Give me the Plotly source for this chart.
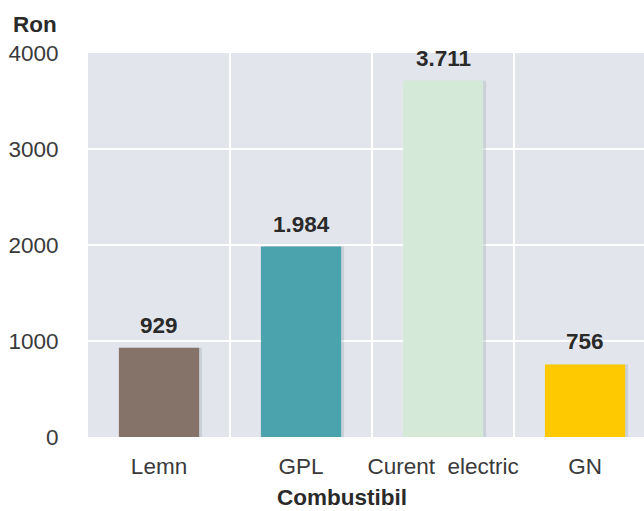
import plotly.graph_objects as go

categories = ["Lemn", "GPL", "Curent  electric", "GN"]
values = [929, 1984, 3711, 756]
bar_colors = ["#857269", "#4ba3ad", "#d5e9d9", "#fec900"]
y_ticks = [0, 1000, 2000, 3000, 4000]
y_label = "Ron"
x_label = "Combustibil"

FONT = "Liberation Sans, Arial, sans-serif"
idx = list(range(len(categories)))

def fmt(v):
    return f"{v:,}".replace(",", ".")

fig = go.Figure()
# soft shadow behind bars
fig.add_trace(go.Bar(
    x=idx, y=values, width=0.565, offset=-0.262,
    marker=dict(color="rgba(120,130,140,0.22)", line=dict(width=0)),
    hoverinfo="skip", showlegend=False,
))
fig.add_trace(go.Bar(
    x=idx, y=values, width=0.565, offset=-0.2825,
    marker=dict(color=bar_colors, line=dict(width=0)),
    showlegend=False,
))

for i, v in zip(idx, values):
    fig.add_annotation(
        x=i, y=v, text=f"<b>{fmt(v)}</b>", showarrow=False,
        yanchor="bottom", yshift=8,
        font=dict(family=FONT, size=22.5, color="#2a2a2a"),
    )

fig.add_annotation(
    xref="paper", yref="paper", x=-0.138, y=1.075, xanchor="left", yanchor="middle",
    text=f"<b>{y_label}</b>", showarrow=False,
    font=dict(family=FONT, size=22.5, color="#2a2a2a"),
)
fig.add_annotation(
    xref="paper", yref="paper", x=0.457, y=-0.157, xanchor="center", yanchor="middle",
    text=f"<b>{x_label}</b>", showarrow=False,
    font=dict(family=FONT, size=22.5, color="#2a2a2a"),
)

fig.update_layout(
    width=644, height=511,
    margin=dict(l=88, r=0, t=53, b=74),
    paper_bgcolor="white",
    plot_bgcolor="#e2e6ec",
    font=dict(family=FONT, size=23, color="#3a3a3a"),
    xaxis=dict(
        range=[-0.5, 3.415], tickmode="array", tickvals=idx, ticktext=categories,
        showgrid=False, zeroline=False, showline=False,
        ticks="outside", ticklen=9, tickcolor="rgba(0,0,0,0)",
        tickfont=dict(family=FONT, size=22.5, color="#3a3a3a"),
        minor=dict(tickmode="array", tickvals=[i + 0.5 for i in idx[:-1]],
                   showgrid=True, gridcolor="white", gridwidth=2, ticks=""),
        fixedrange=True,
    ),
    yaxis=dict(
        range=[0, 4000], tickmode="array", tickvals=y_ticks,
        showgrid=True, gridcolor="white", gridwidth=2,
        zeroline=False, showline=False,
        ticks="outside", ticklen=24, tickcolor="rgba(0,0,0,0)",
        tickfont=dict(family=FONT, size=22.5, color="#3a3a3a"),
        fixedrange=True,
    ),
)

fig.write_html("out.html", config={"displayModeBar": False})
